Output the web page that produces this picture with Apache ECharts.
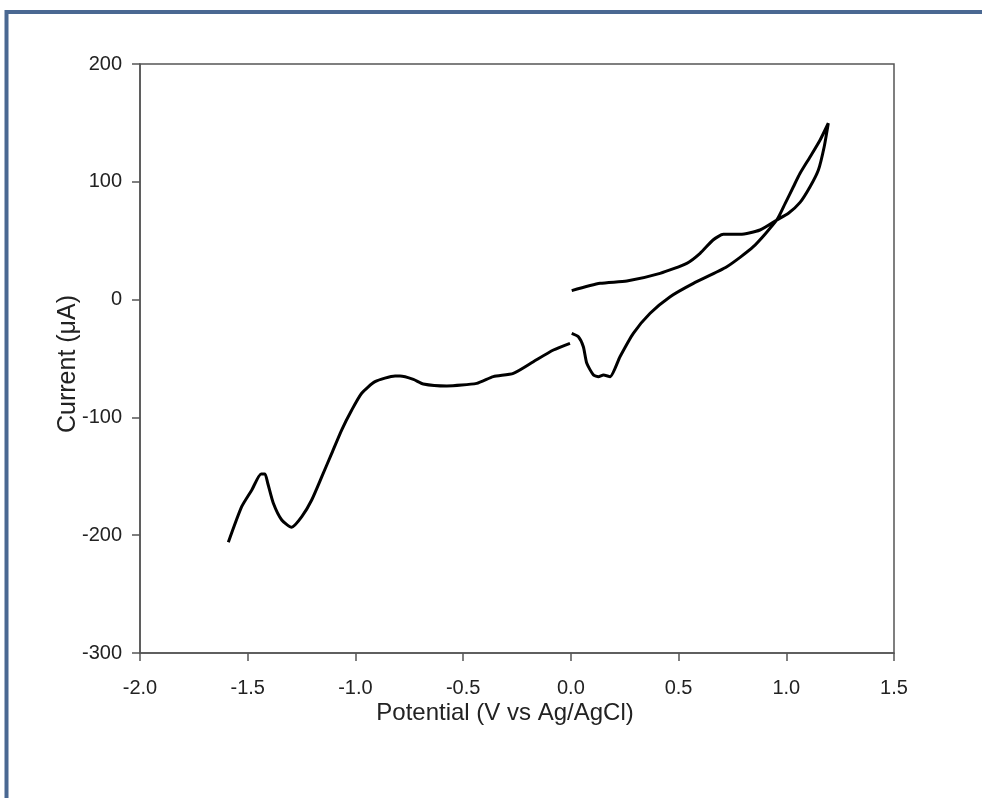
<!DOCTYPE html>
<html>
<head>
<meta charset="utf-8">
<script src="https://cdn.jsdelivr.net/npm/echarts@6/dist/echarts.min.js"></script>
<style>
html,body{margin:0;padding:0;background:#fff;}
#c{width:982px;height:798px;}
</style>
</head>
<body>
<div id="c"></div>
<script>
// Segment 1: cathodic sweep from 0 V down to -1.6 V (listed from -1.6 V)
var potentialA = [-1.59,-1.528,-1.481,-1.438,-1.42,-1.407,-1.381,-1.342,-1.296,-1.249,-1.203,-1.156,-1.110,-1.064,-1.017,-0.971,-0.909,-0.816,-0.793,-0.731,-0.685,-0.576,-0.437,-0.360,-0.267,-0.174,-0.081,-0.004];
var currentA   = [-206,-175.8,-161.6,-148,-148,-155.9,-172.9,-187.1,-193.3,-184.3,-170.1,-150.3,-130.5,-110.7,-93.7,-79.5,-69.7,-64.9,-64.9,-67.7,-71.6,-73.3,-71.1,-65.4,-62.6,-52.7,-42.8,-37.1];
// Segment 2: anodic sweep 0 -> 1.2 V and return to 0 V
var potentialB = [0.004,0.136,0.260,0.414,0.538,0.600,0.660,0.708,0.786,0.878,0.956,1.010,1.064,1.111,1.149,1.176,1.195,1.157,1.111,1.064,1.033,0.995,0.956,0.847,0.724,0.569,0.461,0.368,0.290,0.228,0.182,0.151,0.128,0.105,0.074,0.058,0.035,0.004];
var currentB   = [7.6,13.8,15.8,22.3,30.8,39.3,50.6,55.4,55.4,59.1,67.6,73.3,82.5,96.0,110.0,129.8,149.7,135.5,121.3,107.2,95.8,81.7,67.6,44.9,27.9,13.8,2.5,-11.6,-28.6,-48.5,-65.4,-64.0,-65.4,-64.0,-54.1,-40.0,-31.5,-28.6];
var xTicks = [-2.0,-1.5,-1.0,-0.5,0.0,0.5,1.0,1.5];
var yTicks = [-300,-200,-100,0,100,200];

function pairs(xs, ys){ return xs.map(function(x,i){ return [x, ys[i]]; }); }

var chart = echarts.init(document.getElementById('c'), null, {renderer:'canvas'});
var font = '"Liberation Sans", Arial, sans-serif';
chart.setOption({
  animation:false,
  backgroundColor:'#ffffff',
  grid:{left:140, top:64, right:88, bottom:145, show:true, borderColor:'#555', borderWidth:1.5, backgroundColor:'transparent'},
  xAxis:{
    type:'value', min:xTicks[0], max:xTicks[xTicks.length-1], interval:0.5,
    axisLine:{show:true, onZero:false, lineStyle:{color:'#555', width:1.5}},
    axisTick:{show:true, inside:false, length:8, lineStyle:{color:'#555', width:1.5}},
    axisLabel:{color:'#222', fontFamily:font, fontSize:20, margin:25, formatter:function(v){return v.toFixed(1);}},
    splitLine:{show:false}
  },
  yAxis:{
    type:'value', min:yTicks[0], max:yTicks[yTicks.length-1], interval:100,
    axisLine:{show:true, onZero:false, lineStyle:{color:'#555', width:1.5}},
    axisTick:{show:true, inside:false, length:8, lineStyle:{color:'#555', width:1.5}},
    axisLabel:{color:'#222', fontFamily:font, fontSize:20, margin:18},
    splitLine:{show:false}
  },
  graphic:[
    {type:'rect', silent:true, z:100, shape:{x:6.5, y:12, width:1200, height:1200}, style:{fill:'none', stroke:'#4a6892', lineWidth:4}},
    {type:'text', x:505, y:713, style:{text:'Potential (V vs Ag/AgCl)', fontFamily:font, fontSize:24, fill:'#222', align:'center', verticalAlign:'middle'}},
    {type:'text', x:68, y:364, rotation:Math.PI/2, style:{text:'Current (\u03bcA)', fontFamily:font, fontSize:25, fill:'#222', align:'center', verticalAlign:'middle'}}
  ],
  series:[
    {type:'line', data:pairs(potentialA,currentA), showSymbol:false, smooth:0.2, lineStyle:{color:'#000', width:3}},
    {type:'line', data:pairs(potentialB,currentB), showSymbol:false, smooth:0.2, lineStyle:{color:'#000', width:3}}
  ]
});
</script>
</body>
</html>
